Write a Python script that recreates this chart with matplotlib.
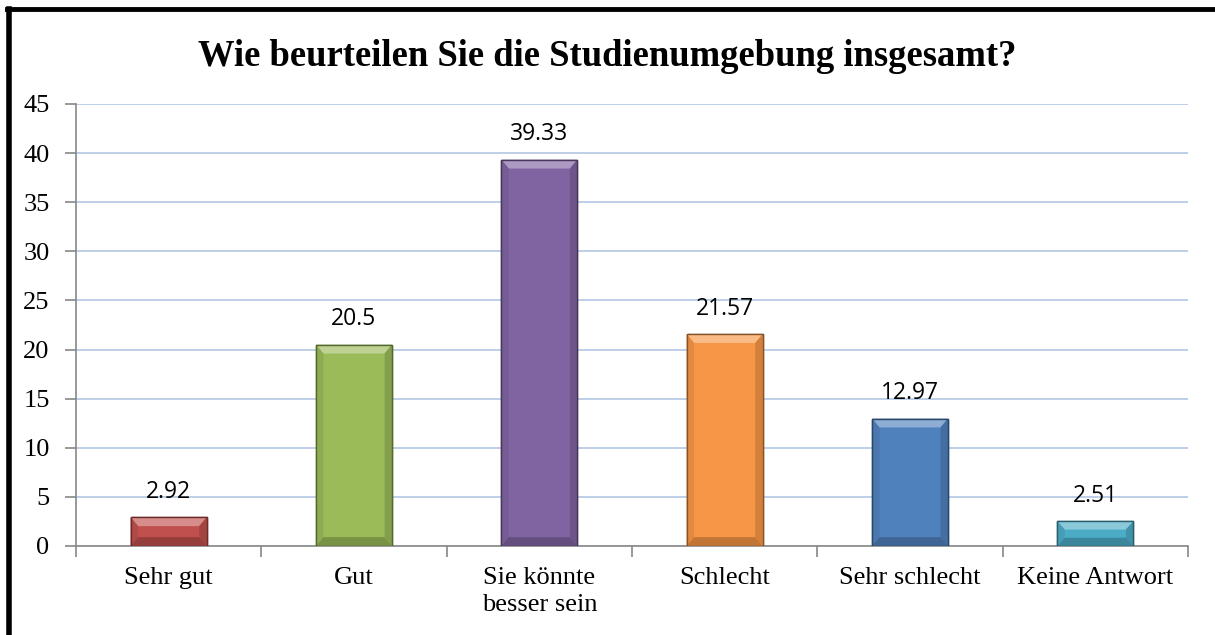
import numpy as np
import matplotlib.pyplot as plt
from matplotlib.lines import Line2D
from matplotlib.colors import to_rgb

categories = ['Sehr gut', 'Gut', 'Sie könnte\nbesser sein', 'Schlecht', 'Sehr schlecht', 'Keine Antwort']
values = [2.92, 20.5, 39.33, 21.57, 12.97, 2.51]
labels = ['2.92', '20.5', '39.33', '21.57', '12.97', '2.51']
colors = ['#c0504d', '#9bbb59', '#8064a2', '#f79646', '#4f81bd', '#4bacc6']


def shade(c, f):
    r = np.array(to_rgb(c))
    if f > 1:
        return tuple(r + (1 - r) * (f - 1))
    return tuple(r * f)


fig = plt.figure(figsize=(12.15, 6.35), dpi=100)
ax = fig.add_axes([76/1215, 1 - 546/635, (1188-76)/1215, (546-104)/635])

x = np.arange(len(categories))
bars = ax.bar(x, values, width=0.41, color=colors, edgecolor=[shade(c, 0.55) for c in colors],
              linewidth=1.0, zorder=3)

# bevel look: lighter top, darker sides and bottom
bx = 0.04
by = 0.9
for b, c in zip(bars, colors):
    x0 = b.get_x()
    x1 = x0 + b.get_width()
    h = b.get_height()
    d = min(by, h / 3)
    ax.fill([x0, x1, x1 - bx, x0 + bx], [h, h, h - d, h - d], color=shade(c, 1.35), lw=0, zorder=4)
    ax.fill([x0, x0 + bx, x0 + bx, x0], [0, d, h - d, h], color=shade(c, 0.92), lw=0, zorder=4)
    ax.fill([x1, x1 - bx, x1 - bx, x1], [0, d, h - d, h], color=shade(c, 0.85), lw=0, zorder=4)
    ax.fill([x0, x1, x1 - bx, x0 + bx], [0, 0, d, d], color=shade(c, 0.78), lw=0, zorder=4)
    ax.bar(b.get_x() + b.get_width() / 2, h, width=b.get_width(), fill=False,
           edgecolor=shade(c, 0.55), linewidth=1.0, zorder=5)

for xi, v, t in zip(x, values, labels):
    ax.text(xi, v + 2.6, t, ha='center', va='center', fontsize=16.5, family='Open Sans', zorder=5)

ax.set_xlim(-0.5, len(categories) - 0.5)
ax.set_ylim(0, 45)
ax.set_yticks(np.arange(0, 46, 5))
ax.yaxis.grid(True, color='#b7cbe6', linewidth=1.3, zorder=0)
ax.set_axisbelow(True)

ax.set_xticks(x)
ax.set_xticklabels(categories, family='Liberation Serif', fontsize=19, linespacing=1.3)
ax.tick_params(axis='x', length=0, pad=15)
ax.set_xticks(np.arange(-0.5, len(categories)), minor=True)
ax.tick_params(axis='x', which='minor', length=8, color='#888888', width=1.2)
ax.tick_params(axis='y', length=8, color='#888888', width=1.2, labelsize=19, pad=11)
for lab in ax.get_yticklabels():
    lab.set_family('Liberation Serif')

for s in ['top', 'right']:
    ax.spines[s].set_visible(False)
for s in ['left', 'bottom']:
    ax.spines[s].set_color('#888888')
    ax.spines[s].set_linewidth(1.2)

fig.text(607/1215, 1 - 57/635, 'Wie beurteilen Sie die Studienumgebung insgesamt?',
         ha='center', va='center', fontsize=26.4, fontweight='bold', family='Liberation Serif')

# outer frame (only left and top visible)
fig.add_artist(Line2D([9/1215, 9/1215], [0, 1 - 8.5/635], color='black', linewidth=4, transform=fig.transFigure))
fig.add_artist(Line2D([7/1215, 1], [1 - 8.5/635, 1 - 8.5/635], color='black', linewidth=3.5, transform=fig.transFigure))

fig.savefig('out.png', dpi=100)
